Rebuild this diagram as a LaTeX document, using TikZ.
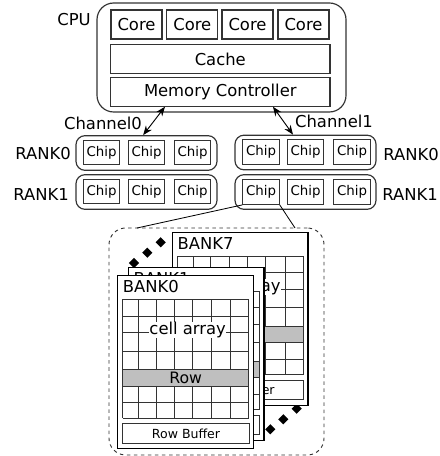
\documentclass[tikz,border=0pt]{standalone}
\usepackage{fontspec}
\setmainfont{DejaVu Sans}
\usetikzlibrary{shapes.geometric, arrows.meta}
\tikzset{
  unit/.style={rectangle, draw=black!80, line width=1pt, fill=white, inner sep=0pt, font=\fontsize{14}{16}\selectfont},
  coreblock/.style={unit, minimum width=1.53cm, minimum height=0.87cm},
  wideblock/.style={unit, minimum width=6.58cm, minimum height=0.85cm},
  chipblock/.style={unit, minimum width=1.09cm, minimum height=0.74cm, font=\fontsize{11.4}{14}\selectfont},
  rankbox/.style={rectangle, rounded corners=0.27cm, draw=black!80, line width=1pt, inner sep=0pt, minimum width=4.23cm, minimum height=1.04cm},
  plainlabel/.style={inner sep=0pt, font=\fontsize{14}{16}\selectfont},
  dotmark/.style={diamond, fill=black, inner sep=0pt, minimum size=0.31cm},
  channelarrow/.style={{Stealth[length=2.8mm,width=2.2mm]}-{Stealth[length=2.8mm,width=2.2mm]}, line width=0.8pt},
  pics/banksheet/.style={code={
    \node[rectangle, draw=black, line width=1pt, fill=white, inner sep=0pt, minimum width=4.07cm, minimum height=5.19cm] (sheet) at (67.85,86.5) {};
    \node[plainlabel, anchor=west] (title) at (5,11) {#1};
    \foreach \gx in {5,21,38.4,56.7,75,93.4,112.7,131} {
      \draw[black!80, line width=0.8pt] (\gx,23.7) -- (\gx,142.3);
    }
    \foreach \gy in {23.7,40.3,57,75.3,93.7,110.3,127,142.3} {
      \draw[black!80, line width=0.8pt] (5,\gy) -- (131,\gy);
    }
    \node[plainlabel, fill=white] (array) at (70,54.3) {cell array};
    \node[rectangle, draw=black!80, line width=0.8pt, fill=black!25, inner sep=0pt, minimum width=3.78cm, minimum height=0.5cm, font=\fontsize{13.4}{16}\selectfont] (row) at (68,102) {Row};
    \node[rectangle, draw=black!80, line width=0.8pt, fill=white, inner sep=0pt, minimum width=3.8cm, minimum height=0.58cm, font=\fontsize{10.7}{13}\selectfont] (buffer) at (68.3,157.7) {Row Buffer};
  }}
}
\begin{document}
\begin{tikzpicture}[x=0.03cm, y=-0.03cm]
\useasboundingbox (0,0) rectangle (439,456);
% processor
\node[rectangle, rounded corners=0.5cm, draw=black!80, line width=1pt, inner sep=0pt, minimum width=7.47cm, minimum height=3.27cm] (cpu) at (221.5,57.5) {};
\node[plainlabel] (cpulabel) at (74,20) {CPU};
\node[coreblock] (core0) at (136.5,24.5) {Core};
\node[coreblock] (core1) at (192.3,24.5) {Core};
\node[coreblock] (core2) at (247.5,24.5) {Core};
\node[coreblock] (core3) at (303.5,24.5) {Core};
\node[wideblock] (cache) at (220.3,59) {Cache};
\node[wideblock] (memctrl) at (220.3,92) {Memory Controller};
% ranks
\node[rankbox] (rankL0) at (146.5,153) {};
\node[rankbox] (rankL1) at (146.5,192) {};
\node[rankbox] (rankR0) at (305.5,152.5) {};
\node[rankbox] (rankR1) at (305.5,192) {};
\node[plainlabel] (labelL0) at (43,154) {RANK0};
\node[plainlabel] (labelL1) at (41,195) {RANK1};
\node[plainlabel] (labelR0) at (411,155) {RANK0};
\node[plainlabel] (labelR1) at (410,195) {RANK1};
\node[chipblock] (chipL00) at (101.5,152.5) {Chip};
\node[chipblock] (chipL01) at (146.5,152.5) {Chip};
\node[chipblock] (chipL02) at (192.5,152.5) {Chip};
\node[chipblock] (chipL10) at (101.5,191.5) {Chip};
\node[chipblock] (chipL11) at (146.5,191.5) {Chip};
\node[chipblock] (chipL12) at (192.5,191.5) {Chip};
\node[chipblock] (chipR00) at (261,152) {Chip};
\node[chipblock] (chipR01) at (305.5,152) {Chip};
\node[chipblock] (chipR02) at (352,152) {Chip};
\node[chipblock] (chipR10) at (261,192) {Chip};
\node[chipblock] (chipR11) at (305.5,192) {Chip};
\node[chipblock] (chipR12) at (352,192) {Chip};
% channels
\node[plainlabel] (channel0) at (103,123) {Channel0};
\node[plainlabel] (channel1) at (334,121) {Channel1};
\draw[channelarrow] ([xshift=-1.66cm]memctrl.south) -- ([xshift=-0.1cm]rankL0.north);
\draw[channelarrow] ([xshift=1.58cm]memctrl.south) -- ([xshift=-0.375cm]rankR0.north);
% banks
\node[rectangle, rounded corners=0.5cm, draw=black!80, line width=0.8pt, dashed, inner sep=0pt, minimum width=6.45cm, minimum height=6.81cm] (bankarea) at (216.5,341.5) {};
\coordinate (zoomleft) at (137,228);
\coordinate (zoomright) at (295,228);
\draw[line width=0.7pt] (chipR10.south west) -- (zoomleft);
\draw[line width=0.7pt] (chipR10.south east) -- (zoomright);
\node[dotmark] (dot0) at (160.7,242.3) {};
\node[dotmark] (dot1) at (147.3,252.7) {};
\node[dotmark] (dot2) at (134,263) {};
\node[dotmark] (dot3) at (296.7,408.7) {};
\node[dotmark] (dot4) at (283.3,419.3) {};
\node[dotmark] (dot5) at (270.3,429.3) {};
\pic (bank7) at (172.3,232.3) {banksheet=BANK7};
\pic (bank1) at (128.3,267.3) {banksheet=BANK1};
\pic (bank0) at (117.7,275.7) {banksheet=BANK0};
\end{tikzpicture}
\end{document}
